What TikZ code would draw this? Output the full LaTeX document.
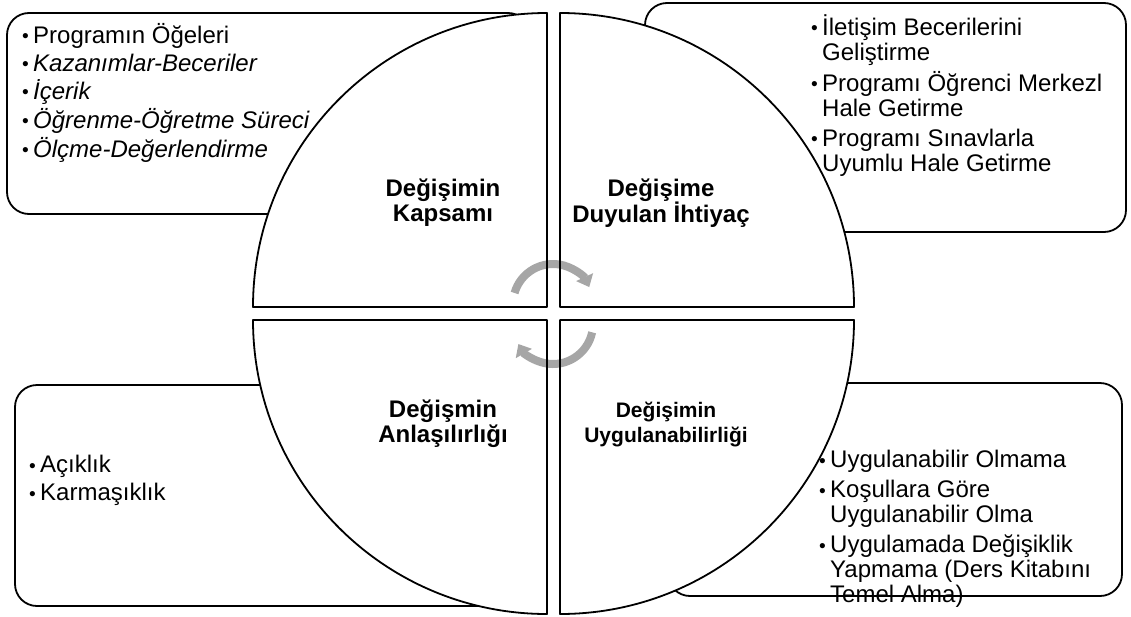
\documentclass[tikz,border=0pt]{standalone}
\usepackage{fontspec}
\usepackage{graphicx}
\setmainfont{Liberation Sans}
\usetikzlibrary{arrows.meta}
\definecolor{okgri}{RGB}{166,166,166}
\newcommand{\mad}[1]{\makebox[11pt][l]{\raisebox{0.5pt}{\scalebox{0.8}{\textbullet}}}#1}
\newcommand{\dev}{\hspace*{11pt}}

\begin{document}
\begin{tikzpicture}[x=1pt,y=-1pt,line join=round]
\tikzstyle{kutu}=[draw,line width=1.8pt,rounded corners=22pt]
\tikzstyle{baslik}=[font=\fontsize{24}{25}\selectfont\bfseries,align=center,inner sep=0pt]
\tikzstyle{liste}=[font=\fontsize{24}{25}\selectfont,align=left,anchor=north west,inner sep=0pt]
\tikzstyle{ok}=[draw=okgri,line width=8pt,-{Triangle[width=18pt,length=11pt]}]
\useasboundingbox (0,0) rectangle (1131,616);
% boxes behind the circle
\draw[kutu] (7,13) rectangle (530,214);
\draw[kutu] (645,3) rectangle (1126,232);
\draw[kutu] (15,385) rectangle (530,606);
\draw[kutu] (668,383) rectangle (1122,596);
% four quarters: fill, arrows, then outlines
\foreach \cx/\cy/\a in {547/307/180,560/307/270,560/320/0,547/320/90}
  \fill[white] (\cx,\cy) -- ++(\a:294) arc (\a:\a+90:294) -- cycle;
\draw[ok] (553,304) ++(196:40) arc (196:335:40);
\draw[ok] (553,324) ++(12:40) arc (12:150:40);
\foreach \cx/\cy/\a in {547/307/180,560/307/270,560/320/0,547/320/90}
  \draw[line width=1.8pt] (\cx,\cy) -- ++(\a:294) arc (\a:\a+90:294) -- cycle;
% titles
\node[baslik] (kapsam) at (443,203) {Değişimin\\Kapsamı};
\node[baslik] (ihtiyac) at (661,203) {Değişime\\Duyulan İhtiyaç};
\node[baslik] (anlasilir) at (443,424) {Değişmin\\Anlaşılırlığı};
\node[baslik,font=\fontsize{21}{25}\selectfont\bfseries] (uygulan) at (666,424) {Değişimin\\Uygulanabilirliği};
% lists
\node[liste] (ogeler) at (22,23) {\mad{Programın Öğeleri}\\[3pt]\mad{\textit{Kazanımlar-Beceriler}}\\[3pt]\mad{\textit{İçerik}}\\[3pt]\mad{\textit{Öğrenme-Öğretme Süreci}}\\[3pt]\mad{\textit{Ölçme-Değerlendirme}}};
\node[liste] (nedenler) at (811,14) {\mad{İletişim Becerilerini}\\\dev Geliştirme\\[5pt]\mad{Programı Öğrenci Merkezl}\\\dev Hale Getirme\\[5pt]\mad{Programı Sınavlarla}\\\dev Uyumlu Hale Getirme};
\node[liste] (acik) at (29,455) {\mad{Açıklık}\\[3pt]\mad{Karmaşıklık}};
\node[liste] (uygula) at (819,450) {\mad{Uygulanabilir Olmama}\\[5pt]\mad{Koşullara Göre}\\\dev Uygulanabilir Olma\\[5pt]\mad{Uygulamada Değişiklik}\\\dev Yapmama (Ders Kitabını\\\dev Temel Alma)};
\end{tikzpicture}
\end{document}
